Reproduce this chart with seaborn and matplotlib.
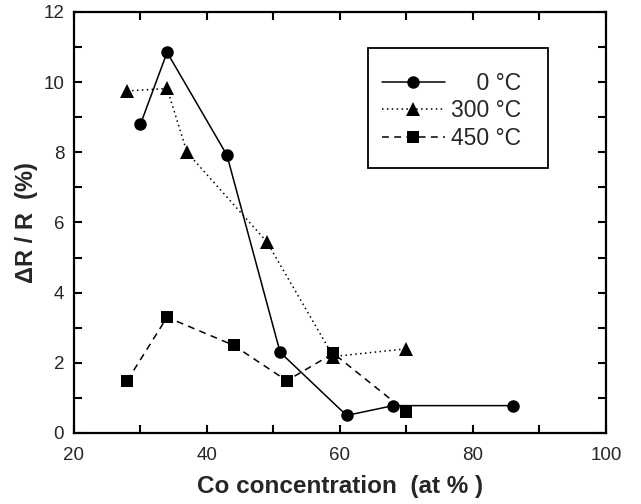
import matplotlib
matplotlib.use("Agg")
import matplotlib.pyplot as plt
from matplotlib.patches import Rectangle
from matplotlib.ticker import MultipleLocator
import pandas as pd
import seaborn as sns

# Magnetoresistance vs Co concentration for three annealing temperatures
series_names = ["0 °C", "300 °C", "450 °C"]

co_0 = [30, 34, 43, 51, 61, 68, 86]
mr_0 = [8.8, 10.85, 7.92, 2.3, 0.5, 0.78, 0.78]

co_300 = [28, 34, 37, 49, 59, 70]
mr_300 = [9.75, 9.82, 8.0, 5.45, 2.18, 2.4]

co_450 = [28, 34, 44, 52, 59, 70]
mr_450 = [1.49, 3.3, 2.5, 1.49, 2.27, 0.6]

x_ticks = [20, 40, 60, 80, 100]
y_ticks = [0, 2, 4, 6, 8, 10, 12]

frames = []
for name, xs, ys in [(series_names[0], co_0, mr_0),
                     (series_names[1], co_300, mr_300),
                     (series_names[2], co_450, mr_450)]:
    frames.append(pd.DataFrame({"co": xs, "mr": ys, "anneal": name}))
df = pd.concat(frames, ignore_index=True)

sns.set_style("ticks")
plt.rcParams["font.family"] = ["Liberation Sans", "DejaVu Sans"]

W, H = 641, 504
fig = plt.figure(figsize=(W / 100, H / 100), dpi=100)
ax = fig.add_axes([0.1154, 0.1409, 0.8300, 0.8353])

markers = {series_names[0]: "o", series_names[1]: "^", series_names[2]: "s"}
dashes = {series_names[0]: "", series_names[1]: (1, 2.2), series_names[2]: (4.5, 3.5)}
palette = {n: "black" for n in series_names}

sns.lineplot(data=df, x="co", y="mr", hue="anneal", style="anneal",
             hue_order=series_names, style_order=series_names,
             markers=markers, dashes=dashes, palette=palette,
             markersize=9, markeredgewidth=0, linewidth=1.1,
             sort=False, estimator=None, ax=ax)

# triangles drawn a bit larger, squares slightly smaller
for line in ax.lines:
    if line.get_marker() == "^":
        line.set_markersize(10.5)
    elif line.get_marker() == "s":
        line.set_markersize(8)

leg_handles = ax.get_legend().legend_handles
for h in leg_handles:
    h.set_linewidth(1.1)
    if h.get_marker() == "^":
        h.set_markersize(10.5)
    elif h.get_marker() == "s":
        h.set_markersize(8)
    else:
        h.set_markersize(9)
    h.set_markeredgewidth(0)
ax.get_legend().remove()

# legend entries with a separate, roomier box around them
padded = ["    " + series_names[0], series_names[1], series_names[2]]
leg = ax.legend(leg_handles, padded, loc="upper left",
                bbox_to_anchor=(381.5 / W, 1 - 72 / H),
                bbox_transform=fig.transFigure, fontsize=16.5,
                handlelength=2.75, handletextpad=0.3, labelspacing=0.19,
                borderpad=0, frameon=False, borderaxespad=0)

box = Rectangle((368 / W, 1 - 168 / H), 180 / W, 120 / H,
                transform=fig.transFigure, fill=False,
                edgecolor="black", linewidth=1.3, zorder=5)
fig.add_artist(box)

ax.set_xlim(20, 100)
ax.set_ylim(0, 12)
ax.set_xticks(x_ticks)
ax.set_yticks(y_ticks)
ax.xaxis.set_minor_locator(MultipleLocator(10))
ax.yaxis.set_minor_locator(MultipleLocator(1))
ax.tick_params(which="both", direction="in", top=True, right=True,
               length=5.5, width=1.5, color="black")
ax.tick_params(axis="x", which="major", labelsize=13.5, pad=10)
ax.tick_params(axis="y", which="major", labelsize=13.5, pad=7)

for s in ax.spines.values():
    s.set_linewidth(1.6)
    s.set_color("black")

ax.set_xlabel("Co concentration  (at % )", fontsize=17.5, fontweight="bold", labelpad=8)
ax.set_ylabel("ΔR / R  (%)", fontsize=17, fontweight="bold", labelpad=4)

fig.savefig("out.png", dpi=100)
